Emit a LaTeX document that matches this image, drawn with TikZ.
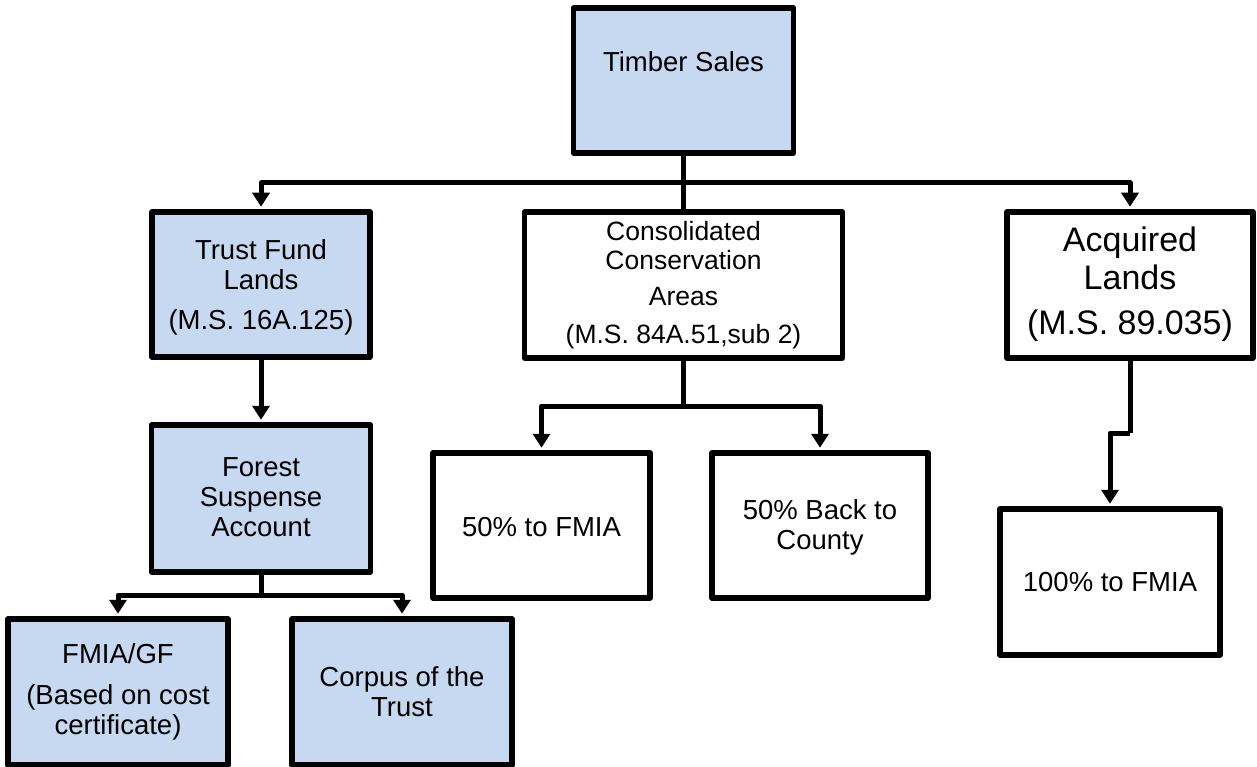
\documentclass[tikz,border=0pt]{standalone}
\usepackage{fontspec}
\setmainfont{Liberation Sans}
\usetikzlibrary{arrows.meta}
\definecolor{boxblue}{RGB}{198,217,240}
\begin{document}
\begin{tikzpicture}[x=1pt,y=-1pt,
  box/.style={draw=black, line width=5.5pt, line join=round, inner sep=0pt},
  bluebox/.style={box, fill=boxblue},
  whitebox/.style={box, fill=white},
  txt/.style={align=center, inner sep=0pt, font=\fontsize{27.5}{30}\selectfont},
  conn/.style={line width=5pt, line join=round},
  arr/.style={conn, -{Triangle[width=17pt,length=14pt]}, shorten >=2.5pt}]
\useasboundingbox (0,0) rectangle (1257,767);
% boxes
\node[bluebox, minimum width=220pt, minimum height=145pt] (ts) at (683.5,80.5) {};
\node[bluebox, minimum width=218pt, minimum height=145pt] (tf) at (261,284.5) {};
\node[whitebox, minimum width=318pt, minimum height=146pt] (cc) at (683.5,285) {};
\node[whitebox, minimum width=246pt, minimum height=146pt] (al) at (1130,285) {};
\node[bluebox, minimum width=219pt, minimum height=147pt] (fs) at (261,498.5) {};
\node[bluebox, minimum width=220pt, minimum height=146pt] (fm) at (118,692) {};
\node[bluebox, minimum width=220pt, minimum height=146pt] (cp) at (402,692) {};
\node[whitebox, minimum width=217pt, minimum height=145pt] (f50) at (541.5,525.5) {};
\node[whitebox, minimum width=216pt, minimum height=145pt] (b50) at (820,525.5) {};
\node[whitebox, minimum width=220pt, minimum height=146pt] (hf) at (1110,582) {};
% texts
\node[txt] (tsT) at (683.5,62) {Timber Sales};
\node[txt] (tfT) at (261,287) {Trust Fund\\Lands\\[10pt](M.S. 16A.125)};
\node[txt, font=\fontsize{26.5}{29}\selectfont] (ccT) at (683.5,285) {Consolidated\\Conservation\\[7pt]Areas\\[9pt](M.S. 84A.51,sub 2)};
\node[txt, font=\fontsize{34}{38}\selectfont] (alT) at (1130,284) {Acquired\\Lands\\[7pt](M.S. 89.035)};
\node[txt] (fsT) at (261,497.5) {Forest\\Suspense\\Account};
\node[txt] (fmT) at (118,692) {FMIA/GF\\[11pt](Based on cost\\certificate)};
\node[txt] (cpT) at (402,692) {Corpus of the\\Trust};
\node[txt] (f50T) at (541.5,527) {50\% to FMIA};
\node[txt] (b50T) at (820,527) {50\% Back to\\County};
\node[txt] (hfT) at (1110,582) {100\% to FMIA};
% junctions
\coordinate (j1) at (683.5,183);
\coordinate (j2) at (683.5,406);
\coordinate (j3) at (261,595);
\coordinate (j4) at (1130,433);
% connectors
\draw[conn] (ts.south) -- (j1) -- (cc.north);
\draw[arr] (j1) -| (tf.north);
\draw[arr] (j1) -| (al.north);
\draw[arr] (tf.south) -- (fs.north);
\draw[conn] (cc.south) -- (j2);
\draw[arr] (j2) -| (f50.north);
\draw[arr] (j2) -| (b50.north);
\draw[conn] (fs.south) -- (j3);
\draw[arr] (j3) -| (fm.north);
\draw[arr] (j3) -| (cp.north);
\draw[conn] (al.south) -- (j4);
\draw[arr] (j4) -| (hf.north);
\end{tikzpicture}
\end{document}
